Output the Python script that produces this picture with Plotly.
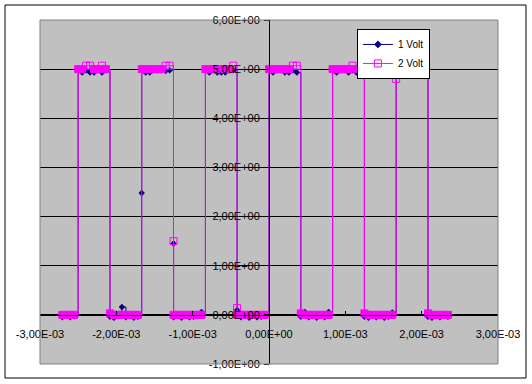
import plotly.graph_objects as go

# Sample times in ms (oscilloscope sample clock)
T_MS = [-2.708, -2.656, -2.604, -2.552, -2.500, -2.448, -2.396, -2.344, -2.292, -2.240,
        -2.188, -2.135, -2.083, -2.031, -1.979, -1.927, -1.875, -1.823, -1.771, -1.719,
        -1.667, -1.615, -1.563, -1.510, -1.458, -1.406, -1.354, -1.302, -1.250, -1.198,
        -1.146, -1.094, -1.042, -0.990, -0.938, -0.885, -0.833, -0.781, -0.729, -0.677,
        -0.625, -0.573, -0.521, -0.469, -0.417, -0.365, -0.313, -0.260, -0.208, -0.156,
        -0.104, -0.052, 0.000, 0.052, 0.104, 0.156, 0.208, 0.260, 0.313, 0.365,
        0.417, 0.469, 0.521, 0.573, 0.625, 0.677, 0.729, 0.781, 0.833, 0.885,
        0.938, 0.990, 1.042, 1.094, 1.146, 1.198, 1.250, 1.302, 1.354, 1.406,
        1.458, 1.510, 1.563, 1.615, 1.667, 1.719, 1.771, 1.823, 1.875, 1.927,
        1.979, 2.031, 2.083, 2.135, 2.188, 2.240, 2.292, 2.344]

# Series "1 Volt"
Y1 = [-0.05, -0.02, -0.05, -0.03,
      4.98, 4.93, 4.98, 4.93, 4.93, 4.98, 4.93, 4.98,
      -0.04, -0.06, -0.02, 0.16, -0.05, -0.03, -0.06, -0.04,
      4.98, 4.93, 4.93, 4.98, 4.98, 4.98, 4.96, 4.98,
      -0.05, -0.03, -0.06, -0.02, -0.05, -0.04, -0.03, 0.06,
      4.98, 4.93, 4.98, 4.93, 4.93, 4.93, 4.98, 4.98,
      0.02, -0.05, -0.03, -0.06, -0.02, -0.05, -0.04, -0.03,
      4.98, 4.93, 4.98, 4.98, 4.93, 4.93, 4.98, 4.93,
      -0.04, 0.06, -0.05, -0.03, -0.06, -0.02, -0.05, 0.06,
      4.98, 4.93, 4.98, 4.98, 4.93, 4.98, 4.93, 4.93,
      -0.04, -0.06, -0.02, -0.05, -0.03, -0.06, -0.04, 0.05,
      5.10, 4.98, 4.98, 4.98, 4.93, 4.98, 4.93, 4.93,
      -0.04, -0.06, -0.03, -0.05, -0.02, -0.04]
# Series "2 Volt"
Y2 = [0.00, 0.00, 0.00, 0.00,
      5.00, 5.00, 5.07, 5.07, 5.00, 5.00, 5.07, 5.00,
      0.03, 0.00, 0.00, 0.00, 0.00, 0.00, 0.00, 0.00,
      5.00, 5.00, 5.00, 5.00, 5.00, 5.00, 5.07, 5.07,
      0.00, 0.00, 0.00, 0.00, 0.00, 0.00, 0.00, 0.00,
      5.00, 5.00, 5.00, 5.00, 5.00, 5.00, 5.00, 5.07,
      0.00, 0.00, 0.00, 0.00, 0.00, 0.00, 0.00, 0.00,
      5.00, 5.00, 5.00, 5.00, 5.00, 5.00, 5.07, 5.07,
      0.03, 0.00, 0.00, 0.00, 0.00, 0.00, 0.00, 0.00,
      5.00, 5.00, 5.00, 5.00, 5.00, 5.07, 5.00, 5.00,
      0.03, 0.00, 0.00, 0.00, 0.00, 0.00, 0.00, 0.00,
      5.00, 5.07, 5.00, 5.00, 5.00, 5.00, 5.00, 5.00,
      0.03, 0.00, 0.00, 0.00, 0.00, 0.00]

# Samples caught mid-edge
X1_EDGE_MS = [-1.668, -1.251, -0.418, 1.666]
Y1_EDGE = [2.48, 1.45, 0.10, 4.90]
X2_EDGE_MS = [-1.251, -0.418, 1.666]
Y2_EDGE = [1.50, 0.14, 4.80]

SERIES_NAMES = ["1 Volt", "2 Volt"]
X_TICKS = [-3e-3, -2e-3, -1e-3, 0.0, 1e-3, 2e-3, 3e-3]
X_TICK_TEXT = ["-3,00E-03", "-2,00E-03", "-1,00E-03", "0,00E+00", "1,00E-03", "2,00E-03", "3,00E-03"]
Y_TICKS = [-1, 0, 1, 2, 3, 4, 5, 6]
Y_TICK_TEXT = ["-1,00E+00", "0,00E+00", "1,00E+00", "2,00E+00", "3,00E+00", "4,00E+00", "5,00E+00", "6,00E+00"]

NAVY = "#000080"
MAGENTA = "#FF00FF"


def merge(t, y, xe, ye):
    pts = sorted(list(zip(t, y)) + list(zip(xe, ye)))
    return [p[0] * 1e-3 for p in pts], [p[1] for p in pts]


x1, y1 = merge(T_MS, Y1, X1_EDGE_MS, Y1_EDGE)
x2, y2 = merge(T_MS, Y2, X2_EDGE_MS, Y2_EDGE)

# points off the 0 / 5 plateaus are drawn as open squares (as the chart shows them)
edge2 = set(zip([v * 1e-3 for v in X2_EDGE_MS], Y2_EDGE))
sym2 = ["square-open" if ((xx, yy) in edge2 or yy > 5.02) else "square" for xx, yy in zip(x2, y2)]

fig = go.Figure()
fig.add_trace(go.Scatter(x=x1, y=y1, mode="lines+markers", line=dict(color=NAVY, width=1, shape="hv"),
                         marker=dict(symbol="diamond", size=5, color=NAVY), showlegend=False,
                         hoverinfo="skip"))
fig.add_trace(go.Scatter(x=x2, y=y2, mode="lines+markers", line=dict(color=MAGENTA, width=1, shape="hv"),
                         marker=dict(symbol=sym2, size=7, color=MAGENTA, line=dict(width=1, color=MAGENTA)),
                         showlegend=False, hoverinfo="skip"))
# legend entries
fig.add_trace(go.Scatter(x=[None], y=[None], mode="lines+markers", name=SERIES_NAMES[0],
                         line=dict(color=NAVY, width=1), marker=dict(symbol="diamond", size=6, color=NAVY)))
fig.add_trace(go.Scatter(x=[None], y=[None], mode="lines+markers", name=SERIES_NAMES[1],
                         line=dict(color=MAGENTA, width=1),
                         marker=dict(symbol="square-open", size=7, color=MAGENTA, line=dict(width=1, color=MAGENTA))))

font = dict(family="Liberation Sans, Arial, sans-serif", size=11, color="black")

fig.update_layout(
    width=532, height=384,
    margin=dict(l=40, r=34, t=20, b=20, pad=0),
    paper_bgcolor="white", plot_bgcolor="#C0C0C0",
    font=font,
    hovermode=False,
    xaxis=dict(range=[-3e-3, 3e-3], anchor="free", position=1 / 7, showline=True, linecolor="black",
               linewidth=1, ticks="inside", ticklen=4, tickcolor="black", tickvals=X_TICKS,
               ticktext=X_TICK_TEXT, showgrid=False, zeroline=False, ticklabelstandoff=9,
               tickfont=font),
    yaxis=dict(range=[-1, 6], anchor="free", position=0.5, showline=True, linecolor="black",
               linewidth=1, ticks="outside", ticklen=5, tickcolor="black", tickvals=Y_TICKS,
               ticktext=Y_TICK_TEXT, showgrid=True, gridcolor="black", gridwidth=1, zeroline=False,
               tickfont=font, ticklabelstandoff=2),
    legend=dict(x=0.692, y=0.974, xanchor="left", yanchor="top", bgcolor="white", bordercolor="black",
                borderwidth=1, font=dict(family="Liberation Sans, Arial, sans-serif", size=10, color="black"),
                tracegroupgap=0, itemwidth=30),
    shapes=[
        dict(type="rect", xref="paper", yref="paper", x0=0, x1=1, y0=0, y1=1,
             line=dict(color="#808080", width=1), layer="above"),
        dict(type="rect", xref="paper", yref="paper", x0=-0.0764, x1=1.0611, y0=-0.0407, y1=1.0436,
             line=dict(color="black", width=1), layer="above"),
    ],
)

fig.write_html("out.html", config={"displayModeBar": False},
               post_script="document.body.style.margin='0';")
